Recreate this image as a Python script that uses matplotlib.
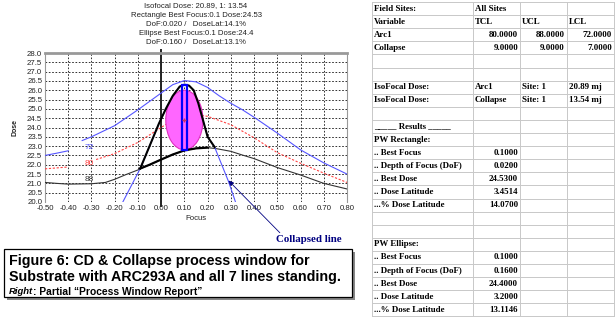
import matplotlib
matplotlib.use("Agg")
import matplotlib.pyplot as plt
from matplotlib.patches import Ellipse, Rectangle
from matplotlib.lines import Line2D

W, H = 615, 317

# ---- contour data ----
focus_72_left = [-0.50, -0.45, -0.40]
dose_72_left = [22.50, 22.62, 22.75]
focus_72 = [-0.34, -0.30, -0.20, -0.10, 0.00, 0.05, 0.10, 0.15, 0.20, 0.25, 0.30,
            0.35, 0.40, 0.50, 0.60, 0.70, 0.80]
dose_72 = [23.30, 23.50, 24.10, 24.95, 25.85, 26.30, 26.52, 26.45, 26.15, 25.70, 25.30,
           24.95, 24.55, 23.70, 22.80, 22.10, 21.50]

focus_80_left = [-0.50, -0.45, -0.40]
dose_80_left = [21.78, 21.83, 21.88]
focus_80 = [-0.28, -0.20, -0.10, 0.00, 0.05, 0.10, 0.15, 0.20, 0.30, 0.35, 0.40,
            0.50, 0.60, 0.70, 0.80]
dose_80 = [22.28, 22.60, 23.20, 24.00, 24.40, 24.65, 24.70, 24.60, 24.15, 23.80, 23.45,
           22.65, 22.08, 21.55, 21.05]

focus_88 = [-0.50, -0.45, -0.40, -0.30, -0.24, -0.20, -0.15, -0.10, -0.05, 0.00, 0.05,
            0.10, 0.15, 0.20, 0.24, 0.30, 0.35, 0.40, 0.50, 0.60, 0.70, 0.80]
dose_88 = [21.05, 21.00, 20.96, 20.98, 21.05, 21.22, 21.48, 21.72, 22.00, 22.28, 22.55,
           22.77, 22.88, 22.92, 22.86, 22.72, 22.52, 22.33, 21.85, 21.45, 21.00, 20.70]

focus_col = [-0.165, -0.09, -0.05, -0.01, 0.02, 0.05, 0.08, 0.10, 0.12, 0.14, 0.16,
             0.18, 0.20, 0.23, 0.29, 0.32]
dose_col = [20.00, 21.80, 23.00, 24.20, 25.00, 25.70, 26.20, 26.30, 26.25, 26.00, 25.30,
            24.40, 23.50, 22.95, 21.10, 20.00]
pw_focus_min, pw_focus_max = -0.09, 0.23

# process window results
rect_focus, rect_dof, rect_dose, rect_lat = 0.10, 0.02, 24.53, 3.4514
ell_focus, ell_dof, ell_dose, ell_lat = 0.10, 0.16, 24.40, 3.20

title_lines = [
    "Isofocal Dose: 20.89, 1: 13.54",
    "Rectangle Best Focus:0.1 Dose:24.53",
    "DoF:0.020 /   DoseLat:14.1%",
    "Ellipse Best Focus:0.1 Dose:24.4",
    "DoF:0.160 /   DoseLat:13.1%",
]

x_ticks = [-0.50, -0.40, -0.30, -0.20, -0.10, 0.00, 0.10, 0.20, 0.30, 0.40, 0.50, 0.60, 0.70, 0.80]
y_ticks = [20.0, 20.5, 21.0, 21.5, 22.0, 22.5, 23.0, 23.5, 24.0, 24.5, 25.0, 25.5, 26.0,
           26.5, 27.0, 27.5, 28.0]

table_rows = [
    ["Field Sites:", "All Sites", "", ""],
    ["Variable", "TCL", "UCL", "LCL"],
    ["Arc1", "80.0000", "88.0000", "72.0000"],
    ["Collapse", "9.0000", "9.0000", "7.0000"],
    ["", "", "", ""],
    ["", "", "", ""],
    ["IsoFocal Dose:", "Arc1", "Site: 1", "20.89 mj"],
    ["IsoFocal Dose:", "Collapse", "Site: 1", "13.54 mj"],
    ["", "", "", ""],
    ["_____ Results _____", "", "", ""],
    ["PW Rectangle:", "", "", ""],
    [".. Best Focus", "0.1000", "", ""],
    [".. Depth of Focus (DoF)", "0.0200", "", ""],
    [".. Best Dose", "24.5300", "", ""],
    [".. Dose Latitude", "3.4514", "", ""],
    ["...% Dose Latitude", "14.0700", "", ""],
    ["", "", "", ""],
    ["", "", "", ""],
    ["PW Ellipse:", "", "", ""],
    [".. Best Focus", "0.1000", "", ""],
    [".. Depth of Focus (DoF)", "0.1600", "", ""],
    [".. Best Dose", "24.4000", "", ""],
    [".. Dose Latitude", "3.2000", "", ""],
    ["...% Dose Latitude", "13.1146", "", ""],
]

caption_1 = "Figure 6: CD & Collapse process window for"
caption_2 = "Substrate with ARC293A and all 7 lines standing."
caption_3a = "Right"
caption_3b = ": Partial \u201cProcess Window Report\u201d"

BLUE = "#5555ff"
RED = "#ff4444"
GREY = "#333333"
NAVY = "#000080"
SMALL = dict(family="Liberation Sans", fontsize=5.6, color="#222222")

fig = plt.figure(figsize=(W / 100, H / 100), dpi=100)

def px(x, y):
    # pixel position (from top-left) -> figure fraction
    return x / W, 1 - y / H

ax_l, ax_r, ax_t, ax_b = 45, 347, 53, 202
ax = fig.add_axes([ax_l / W, 1 - ax_b / H, (ax_r - ax_l) / W, (ax_b - ax_t) / H])
ax.set_xlim(-0.50, 0.80)
ax.set_ylim(20.0, 28.0)
ax.set_xticks(x_ticks)
ax.set_yticks(y_ticks)
ax.set_xticklabels([f"{v:.2f}" for v in x_ticks], **SMALL)
ax.set_yticklabels([f"{v:.1f}" for v in y_ticks], **SMALL)
ax.tick_params(length=0, pad=2)
ax.grid(True, color="#111111", linestyle=(0, (2, 2)), linewidth=0.6)
ax.set_axisbelow(True)
ax.spines["bottom"].set_visible(False)
ax.spines["top"].set_color("#999999")
ax.spines["top"].set_linewidth(2)
for s in ("left", "right"):
    ax.spines[s].set_color("#999999")
    ax.spines[s].set_linewidth(0.8)
ax.axvline(0, ymin=-0.03, ymax=1.02, color="#222222", lw=1.4, clip_on=False, zorder=2)

# contour lines
ax.plot(focus_72_left, dose_72_left, color=BLUE, lw=0.8, zorder=3)
ax.plot(focus_72, dose_72, color=BLUE, lw=0.8, zorder=3)
ax.plot(focus_80_left, dose_80_left, color=RED, lw=0.8, ls=(0, (2, 1.5)), zorder=3)
ax.plot(focus_80, dose_80, color=RED, lw=0.8, ls=(0, (2, 1.5)), zorder=3)
ax.plot(focus_88, dose_88, color=GREY, lw=0.8, zorder=3)
ax.plot(focus_col, dose_col, color=BLUE, lw=0.8, zorder=3)

# ellipse + rectangle
ax.add_patch(Ellipse((ell_focus, ell_dose), ell_dof, ell_lat, fc="#ff66ff", ec="#e030c0",
                     lw=0.8, zorder=4))
ax.add_patch(Rectangle((rect_focus - rect_dof / 2, rect_dose - rect_lat / 2), rect_dof, rect_lat,
                       fill=False, ec="#0000ff", lw=1.6, zorder=6))
ax.plot([ell_focus], [ell_dose], marker="+", ms=3, color="#cc3366", zorder=7)

# thick process-window boundary
cx = [f for f in focus_col if pw_focus_min <= f <= pw_focus_max]
cy = [d for f, d in zip(focus_col, dose_col) if pw_focus_min <= f <= pw_focus_max]
ax.plot(cx, cy, color="black", lw=1.5, zorder=5)
bx = [pw_focus_min] + [f for f in focus_88 if pw_focus_min < f <= pw_focus_max - 0.01]
by = [21.80] + [d for f, d in zip(focus_88, dose_88) if pw_focus_min < f <= pw_focus_max - 0.01]
ax.plot(bx, by, color="black", lw=1.6, zorder=5)

# contour labels
ax.text(-0.31, 22.95, "72", color=BLUE, fontsize=6, family="Liberation Sans", ha="center", va="center")
ax.text(-0.31, 22.05, "80", color=RED, fontsize=6, family="Liberation Sans", ha="center", va="center")
ax.text(-0.31, 21.22, "88", color=GREY, fontsize=6, family="Liberation Sans", ha="center", va="center")

ax.set_xlabel("Focus", labelpad=2, **SMALL)
ax.set_ylabel("Dose", labelpad=6, family="Liberation Sans", fontsize=5, fontweight="bold", color="#222222")

cx_title = (ax_l + ax_r) / 2
for i, line in enumerate(title_lines):
    fig.text(*px(cx_title, 6 + 9.2 * i), line, ha="center", va="center", **SMALL)

# collapsed line callout
ax.annotate("Collapsed line", xy=(0.29, 21.15), xycoords="data",
            xytext=(276, H - 240), textcoords="figure pixels",
            family="Liberation Serif", fontweight="bold", fontsize=7.8, color=NAVY,
            ha="left", va="center",
            arrowprops=dict(arrowstyle="-|>", color=NAVY, lw=0.6, mutation_scale=7,
                            shrinkA=0, shrinkB=0, relpos=(0.1, 1.0)))

# caption box with shadow
bx0, by0, bx1, by1 = 4, 249, 352, 297
fig.patches.append(Rectangle(px(bx0 + 3, by1 + 3), (bx1 - bx0) / W, (by1 - by0) / H,
                             transform=fig.transFigure, fc="#888888", ec="none", zorder=1))
fig.patches.append(Rectangle(px(bx0, by1), (bx1 - bx0) / W, (by1 - by0) / H,
                             transform=fig.transFigure, fc="white", ec="black", lw=0.9, zorder=2))
cap = dict(family="Liberation Sans", fontweight="bold", color="black", va="center", zorder=3)
fig.text(*px(9, 261), caption_1, fontsize=10.3, **cap)
fig.text(*px(9, 277), caption_2, fontsize=10.3, **cap)
t3 = fig.text(*px(9, 292), caption_3a, fontsize=6.8, style="italic", **cap)
fig.canvas.draw()
ext = t3.get_window_extent()
fig.text(ext.x1 / W, 1 - 292 / H, caption_3b, fontsize=7.4, **cap)

# report table
col_x = [372, 473, 520, 567, 614]
tab_top, row_h = 2, 13.1
n_rows = len(table_rows)
for i in range(n_rows + 1):
    y = tab_top + i * row_h
    fig.add_artist(Line2D([col_x[0] / W, col_x[-1] / W], [1 - y / H] * 2, color="#c8c8c8", lw=0.7))
for x in col_x:
    fig.add_artist(Line2D([x / W] * 2, [1 - tab_top / H, 1 - (tab_top + n_rows * row_h) / H],
                          color="#c8c8c8", lw=0.7))
tab = dict(family="Liberation Serif", fontweight="bold", fontsize=6.4, color="black", va="center")
for i, row in enumerate(table_rows):
    yc = tab_top + (i + 0.5) * row_h
    for j, cell in enumerate(row):
        if not cell:
            continue
        try:
            float(cell)
            fig.text(*px(col_x[j + 1] - 2, yc), cell, ha="right", **tab)
        except ValueError:
            fig.text(*px(col_x[j] + 2, yc), cell, ha="left", **tab)

fig.savefig("out.png", dpi=100)
